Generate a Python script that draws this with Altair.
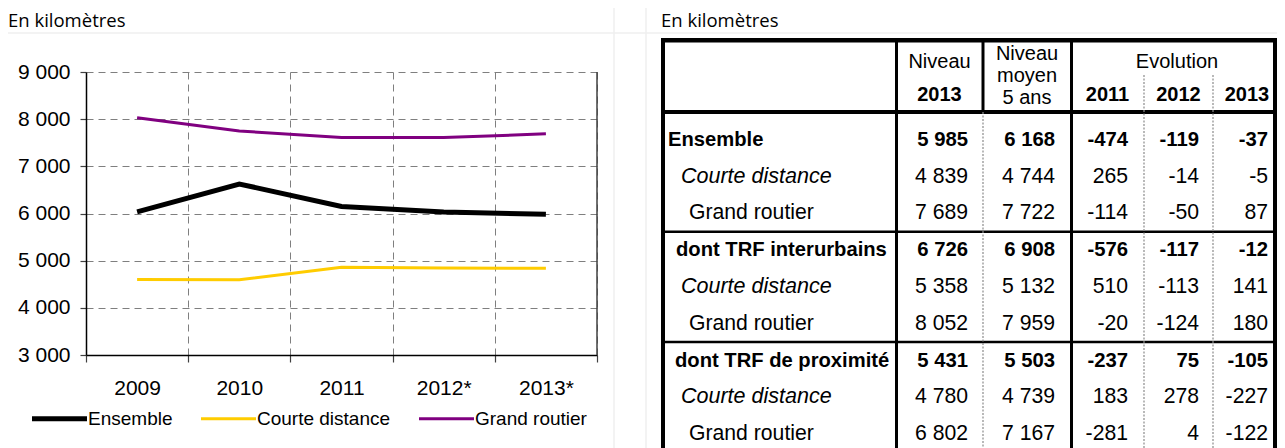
import altair as alt
import pandas as pd

# ---------------- data ----------------
years = ["2009", "2010", "2011", "2012*", "2013*"]
series = ["Ensemble", "Courte distance", "Grand routier"]
ensemble = [6035, 6625, 6150, 6030, 5985]
courte_distance = [4600, 4595, 4858, 4844, 4839]
grand_routier = [8030, 7750, 7610, 7610, 7689]

row_labels = ["Ensemble", "Courte distance", "Grand routier",
              "dont TRF interurbains", "Courte distance", "Grand routier",
              "dont TRF de proximité", "Courte distance", "Grand routier"]
niveau_2013 = [5985, 4839, 7689, 6726, 5358, 8052, 5431, 4780, 6802]
niveau_moyen_5ans = [6168, 4744, 7722, 6908, 5132, 7959, 5503, 4739, 7167]
evolution_2011 = [-474, 265, -114, -576, 510, -20, -237, 183, -281]
evolution_2012 = [-119, -14, -50, -117, -113, -124, 75, 278, 4]
evolution_2013 = [-37, -5, 87, -12, 141, 180, -105, -227, -122]

unit_title = "En kilomètres"
header_niveau = ["Niveau", "2013"]
header_moyen = ["Niveau", "moyen", "5 ans"]
header_evolution = "Evolution"
evolution_years = ["2011", "2012", "2013"]

# ---------------- layout / style ----------------
FONT = "Liberation Sans"
TITLE_FONT = "Open Sans"
W, H = 511, 283
PAD = {"left": 78, "top": 64, "right": 680, "bottom": 93}
COLORS = ["#000000", "#FFCC00", "#800080"]
GRID = "#7f7f7f"

# table: x in page pixels, y in row units
TX = alt.Scale(domain=[0, 1285], range=[-86, 1199], nice=False, zero=False)
TY = alt.Scale(domain=[0, 8], range=[67.7, 362.1], nice=False, zero=False)
COL_EDGES = [663, 896.5, 983, 1071.5, 1144, 1213, 1275]
NUM_RIGHT = [968, 1055, 1128, 1199, 1268]
YEAR_CENTERS = [1107.5, 1178.5, 1247]
LABEL_X = {"Ensemble": 668, "dont TRF interurbains": 676, "dont TRF de proximité": 675,
           "Courte distance": 681, "Grand routier": 689}
Y_TOP, Y_HEAD, Y_END, Y_EVO = -2.70, -0.75, 9.5, -1.76
GROUP_SEPS = [2.5, 5.5]


def fr(v):
    return f"{v:,}".replace(",", " ")


# ---------------- line chart ----------------
line_df = pd.DataFrame({
    "year": years * 3,
    "series": [s for s in series for _ in years],
    "km": ensemble + courte_distance + grand_routier,
})

legend = alt.Legend(
    title=None, orient="none", legendX=-54, legendY=337, direction="horizontal", columns=3,
    symbolType="stroke", symbolSize=3025, symbolOffset=18,
    symbolStrokeWidth={"expr": "isObject(datum) && datum.value === 'Ensemble' ? 5 : 3"},
    labelFont=FONT, labelFontSize=19, labelColor="black", labelOffset=19, labelLimit=0,
    columnPadding=22, padding=0,
)

line = alt.Chart(line_df).transform_calculate(
    sw="datum.series === 'Ensemble' ? 5 : 3"
).mark_line().encode(
    x=alt.X("year:O", sort=years,
            scale=alt.Scale(type="band", paddingInner=0, paddingOuter=0),
            axis=alt.Axis(title=None, labelAngle=0, tickBand="extent", grid=True,
                          gridDash=[7, 5], gridColor=GRID, gridWidth=1,
                          domainColor="black", domainWidth=1.5,
                          tickColor="#404040", tickSize=7, tickWidth=1.2,
                          labelFont=FONT, labelFontSize=21, labelColor="black",
                          labelPadding=15)),
    y=alt.Y("km:Q", scale=alt.Scale(domain=[3000, 9000], nice=False, zero=False),
            axis=alt.Axis(title=None, values=[3000, 4000, 5000, 6000, 7000, 8000, 9000],
                          grid=True, gridDash=[7, 5], gridColor=GRID, gridWidth=1,
                          domainColor="black", domainWidth=1.5,
                          tickColor="#404040", tickSize=6, tickWidth=1.2,
                          labelFont=FONT, labelFontSize=21, labelColor="black",
                          labelPadding=10,
                          labelExpr="replace(format(datum.value, ','), ',', ' ')")),
    color=alt.Color("series:N", scale=alt.Scale(domain=series, range=COLORS), legend=legend),
    strokeWidth=alt.StrokeWidth("sw:Q", scale=None),
)

one = pd.DataFrame({"a": [0]})
right_border = alt.Chart(one).mark_rule(color="#404040", strokeWidth=1.5).encode(
    x=alt.value(W), y=alt.value(0), y2=alt.value(H))

# page decorations
decor_h = alt.Chart(one).mark_rule(color="#efefef", strokeWidth=1.5).encode(
    x=alt.value(-86), x2=alt.value(1199), y=alt.value(-39))
decor_v1 = alt.Chart(one).mark_rule(color="#efefef", strokeWidth=1.5).encode(
    x=alt.value(528), y=alt.value(-72), y2=alt.value(376))
decor_v2 = alt.Chart(one).mark_rule(color="#efefef", strokeWidth=1.5).encode(
    x=alt.value(560), y=alt.value(-72), y2=alt.value(376))

title_left = alt.Chart(one).mark_text(
    text=unit_title, align="left", baseline="alphabetic", font=TITLE_FONT, fontSize=18.5,
    color="black").encode(x=alt.value(-78), y=alt.value(-45))
title_right = alt.Chart(one).mark_text(
    text=unit_title, align="left", baseline="alphabetic", font=TITLE_FONT, fontSize=18.5,
    color="black").encode(x=alt.value(575), y=alt.value(-45))

# ---------------- table ----------------
L, R = COL_EDGES[0] - 2, COL_EDGES[-1] + 2
solid = pd.DataFrame([
    dict(x=L, x2=R, y=Y_TOP, y2=Y_TOP, w=4.5),
    dict(x=L, x2=R, y=Y_HEAD, y2=Y_HEAD, w=4),
    dict(x=L, x2=R, y=GROUP_SEPS[0], y2=GROUP_SEPS[0], w=2.5),
    dict(x=L, x2=R, y=GROUP_SEPS[1], y2=GROUP_SEPS[1], w=2.5),
    dict(x=COL_EDGES[0], x2=COL_EDGES[0], y=Y_TOP, y2=Y_END, w=4),
    dict(x=COL_EDGES[-1], x2=COL_EDGES[-1], y=Y_TOP, y2=Y_END, w=4),
    dict(x=COL_EDGES[1], x2=COL_EDGES[1], y=Y_TOP, y2=Y_END, w=3),
    dict(x=COL_EDGES[2], x2=COL_EDGES[2], y=Y_TOP, y2=Y_HEAD, w=3),
    dict(x=COL_EDGES[3], x2=COL_EDGES[3], y=Y_TOP, y2=Y_END, w=3),
])
dotted = pd.DataFrame([
    dict(x=COL_EDGES[2], x2=COL_EDGES[2], y=Y_HEAD, y2=Y_END),
    dict(x=COL_EDGES[4], x2=COL_EDGES[4], y=Y_EVO, y2=Y_END),
    dict(x=COL_EDGES[5], x2=COL_EDGES[5], y=Y_EVO, y2=Y_END),
])


def rule_enc(ch):
    return ch.encode(x=alt.X("x:Q", scale=TX, axis=None), x2="x2:Q",
                     y=alt.Y("y:Q", scale=TY, axis=None), y2="y2:Q")


solid_rules = rule_enc(alt.Chart(solid).mark_rule(color="black")).encode(
    strokeWidth=alt.StrokeWidth("w:Q", scale=None))
dotted_rules = rule_enc(alt.Chart(dotted).mark_rule(color="#8a8a8a", strokeWidth=1.2,
                                                    strokeDash=[2, 1.5]))

head_rows = [
    dict(x=939.5, y=-2.11, text=header_niveau[0], bold=False),
    dict(x=939.5, y=-1.21, text=header_niveau[1], bold=True),
    dict(x=1027, y=-2.33, text=header_moyen[0], bold=False),
    dict(x=1027, y=-1.72, text=header_moyen[1], bold=False),
    dict(x=1027, y=-1.13, text=header_moyen[2], bold=False),
    dict(x=1177, y=-2.11, text=header_evolution, bold=False),
]
for j, yr in enumerate(evolution_years):
    head_rows.append(dict(x=YEAR_CENTERS[j], y=-1.21, text=yr, bold=True))
head = pd.DataFrame(head_rows)

cells = []
num_cols = [niveau_2013, niveau_moyen_5ans, evolution_2011, evolution_2012, evolution_2013]
for i, lab in enumerate(row_labels):
    group = lab not in ("Courte distance", "Grand routier")
    cells.append(dict(row=i, x=LABEL_X[lab], text=lab, kind="label", bold=group,
                      italic=(lab == "Courte distance")))
    for j, col in enumerate(num_cols):
        cells.append(dict(row=i, x=NUM_RIGHT[j], text=fr(col[i]), kind="num",
                          bold=group, italic=False))
cells = pd.DataFrame(cells)


def text_layer(df, yfield, align, weight, style, size):
    return alt.Chart(df).mark_text(
        align=align, baseline="middle", font=FONT, fontSize=size,
        fontWeight=weight, fontStyle=style, color="black").encode(
        x=alt.X("x:Q", scale=TX, axis=None),
        y=alt.Y(f"{yfield}:Q", scale=TY, axis=None),
        text="text:N")


head_norm = text_layer(head[~head.bold], "y", "center", "normal", "normal", 20)
head_bold = text_layer(head[head.bold], "y", "center", "bold", "normal", 20)
lab_bold = text_layer(cells[(cells.kind == "label") & cells.bold], "row", "left", "bold", "normal", 20.2)
lab_ital = text_layer(cells[(cells.kind == "label") & cells.italic], "row", "left", "normal", "italic", 21.5)
lab_norm = text_layer(cells[(cells.kind == "label") & ~cells.bold & ~cells.italic], "row", "left",
                      "normal", "normal", 21.2)
num_bold = text_layer(cells[(cells.kind == "num") & cells.bold], "row", "right", "bold", "normal", 20.3)
num_norm = text_layer(cells[(cells.kind == "num") & ~cells.bold], "row", "right", "normal", "normal", 21.2)

chart = alt.layer(
    decor_h, decor_v1, decor_v2, title_left, title_right,
    line, right_border,
    solid_rules, dotted_rules,
    head_norm, head_bold, lab_bold, lab_ital, lab_norm, num_bold, num_norm,
).resolve_scale(
    x="independent", y="independent"
).properties(
    width=W, height=H,
    autosize=alt.AutoSizeParams(type="none"),
    padding=PAD,
    background="white",
).configure_view(stroke=None)

chart.save("out.html", embed_options={"renderer": "svg", "actions": False})
